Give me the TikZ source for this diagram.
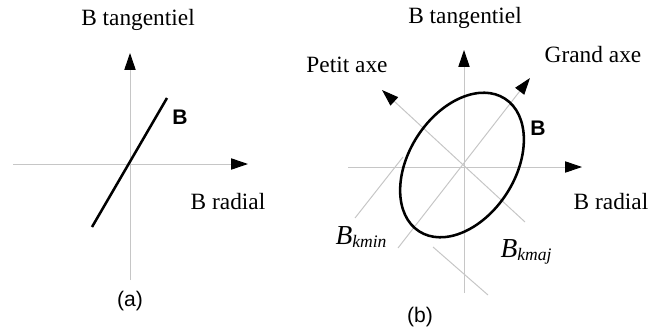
\documentclass[tikz,border=0pt]{standalone}
\usepackage{fontspec}
\setmainfont{Liberation Serif}
\setsansfont{Liberation Sans}
\usetikzlibrary{arrows.meta}

\newcommand{\kcomp}[1]{\textit{B\raisebox{-2.2pt}{\fontsize{12.5}{13}\selectfont #1}}}

\begin{document}
\begin{tikzpicture}[x=0.025cm, y=0.025cm,
  every node/.style={font=\fontsize{16.6}{19}\selectfont, inner sep=0pt},
  axis/.style={gray!45, line width=0.7pt,
               -{Triangle[black, length=0.42cm, width=0.28cm]}},
  guide/.style={gray!45, line width=0.7pt},
  curve/.style={black, line width=1.8pt},
  blab/.style={font=\sffamily\bfseries\fontsize{15}{17}\selectfont},
  sublab/.style={font=\sffamily\fontsize{15}{17}\selectfont},
  klab/.style={font=\fontsize{19.5}{22}\selectfont},
]
\useasboundingbox (0,0) rectangle (649,331);

%% (a) linear polarisation
\coordinate (oa) at (130,167);
\coordinate (ya0) at (130,51);
\coordinate (ya1) at (130,278);
\coordinate (xa0) at (13,167);
\coordinate (xa1) at (248,167);
\coordinate (la0) at (92,104);
\coordinate (la1) at (167,233);

\draw[axis] (ya0) -- (ya1);
\draw[axis] (xa0) -- (xa1);
\draw[curve] (la0) -- (la1);

\node (tana) at (138,311) {B tangentiel};
\node (rada) at (228,129) {B radial};
\node[blab] (ba) at (180,214) {B};
\node[sublab] (capa) at (130,30) {(a)};

%% (b) elliptic polarisation
\coordinate (ob) at (464,164);
\coordinate (yb0) at (464,38);
\coordinate (yb1) at (464,281);
\coordinate (xb0) at (348,164);
\coordinate (xb1) at (582,164);
\coordinate (pb0) at (525,109);
\coordinate (pb1) at (382,241);
\coordinate (gb0) at (398,83);
\coordinate (gb1) at (530,253);
\coordinate (kmin0) at (355,113);
\coordinate (kmin1) at (403,174);
\coordinate (kmaj0) at (433,84);
\coordinate (kmaj1) at (488,36);

\draw[axis] (yb0) -- (yb1);
\draw[axis] (xb0) -- (xb1);
\draw[axis] (pb0) -- (pb1);
\draw[axis] (gb0) -- (gb1);
\draw[guide] (kmin0) -- (kmin1);
\draw[guide] (kmaj0) -- (kmaj1);

\draw[curve, rotate around={57:(462,166)}] (462,166) ellipse [x radius=79, y radius=53];

\node (tanb) at (465,313) {B tangentiel};
\node (radb) at (611,129) {B radial};
\node (petit) at (347,266) {Petit axe};
\node (grand) at (593,276) {Grand axe};
\node[blab] (bb) at (538,203) {B};
\node[klab] (bmin) at (361,94) {\kcomp{kmin}};
\node[klab] (bmaj) at (526,79) {\kcomp{kmaj}};
\node[sublab] (capb) at (420,14) {(b)};

\end{tikzpicture}
\end{document}
